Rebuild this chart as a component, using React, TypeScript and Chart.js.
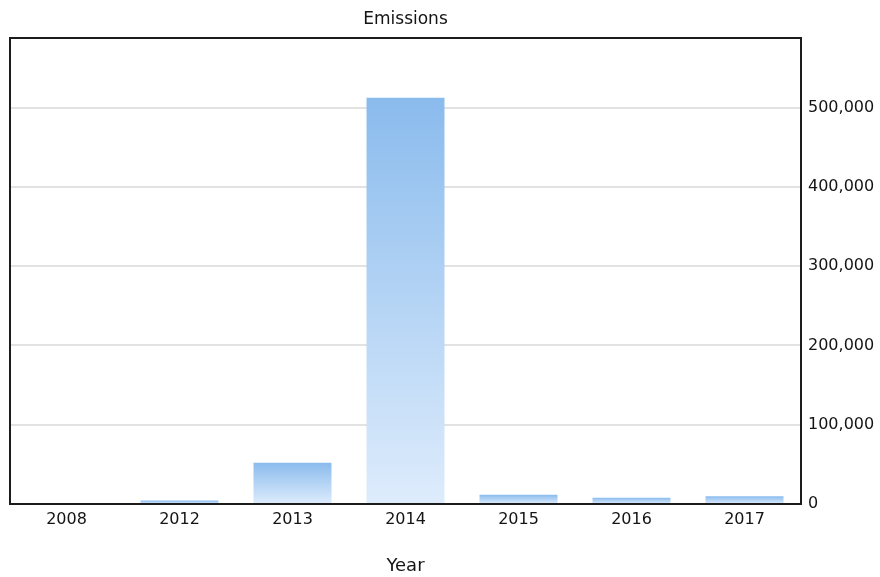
import React, { useEffect, useRef } from "react";
import { Chart, registerables } from "chart.js";

Chart.register(...registerables);

const chartTitle = "Emissions";
const years = ["2008", "2012", "2013", "2014", "2015", "2016", "2017"];
const emissions = [0, 4400, 52000, 512500, 11600, 7800, 9800];
const yTicks = [0, 100000, 200000, 300000, 400000, 500000];
const yMax = 588000;

const FONT = "DejaVu Sans";
const TEXT = "#141414";

// Black frame around the plotting area, plus the title centred over it
const framePlugin = {
  id: "frame",
  afterDatasetsDraw(chart: any) {
    const { ctx, chartArea } = chart;
    ctx.save();
    ctx.strokeStyle = "#1c1c1c";
    ctx.lineWidth = 2;
    ctx.strokeRect(
      chartArea.left,
      chartArea.top,
      chartArea.right - chartArea.left,
      chartArea.bottom - chartArea.top
    );
    ctx.fillStyle = TEXT;
    ctx.font = `17px '${FONT}'`;
    ctx.textAlign = "center";
    ctx.textBaseline = "middle";
    ctx.fillText(chartTitle, (chartArea.left + chartArea.right) / 2, 20);
    ctx.restore();
  },
};

export default function App() {
  const canvasRef = useRef<HTMLCanvasElement | null>(null);

  useEffect(() => {
    document.body.style.margin = "0";
    const canvas = canvasRef.current;
    if (!canvas) return;

    const chart = new Chart(canvas, {
      type: "bar",
      data: {
        labels: years,
        datasets: [
          {
            label: chartTitle,
            data: emissions,
            backgroundColor: (c: any) => {
              const ch = c.chart;
              if (!ch.chartArea || c.raw == null) return "#8dbdee";
              const y = ch.scales.y;
              const top = y.getPixelForValue(c.raw);
              const bottom = y.getPixelForValue(0);
              if (bottom - top < 1) return "#8dbdee";
              const g = ch.ctx.createLinearGradient(0, top, 0, bottom);
              g.addColorStop(0, "#8abbed");
              g.addColorStop(1, "#deecfc");
              return g;
            },
            borderWidth: 0,
            barPercentage: 0.69,
            categoryPercentage: 1,
          },
        ],
      },
      options: {
        responsive: false,
        animation: false,
        layout: { padding: { left: 10, right: 0, top: 38, bottom: 0 } },
        plugins: {
          legend: { display: false },
          tooltip: { enabled: false },
          title: { display: false },
        },
        scales: {
          x: {
            grid: { display: false, drawTicks: false },
            border: { display: false },
            ticks: {
              color: TEXT,
              font: { family: FONT, size: 16 },
              padding: 6,
              maxRotation: 0,
            },
            title: {
              display: true,
              text: "Year",
              color: TEXT,
              font: { family: FONT, size: 18 },
              padding: { top: 17, bottom: 0 },
            },
            afterFit: (s: any) => {
              s.height = 73;
            },
          },
          y: {
            position: "right",
            min: 0,
            max: yMax,
            grid: { color: "#e2e2e2", lineWidth: 2, drawTicks: false },
            border: { display: false },
            ticks: {
              color: TEXT,
              font: { family: FONT, size: 16 },
              padding: 7,
              autoSkip: false,
              callback: (v: any) => Number(v).toLocaleString("en-US"),
            },
            afterBuildTicks: (s: any) => {
              s.ticks = yTicks.map((value) => ({ value }));
            },
            afterFit: (s: any) => {
              s.width = 79;
            },
          },
        },
      },
      plugins: [framePlugin],
    } as any);

    return () => chart.destroy();
  }, []);

  return (
    <div style={{ position: "absolute", left: 0, top: 0, width: 880, height: 577, background: "#fff" }}>
      <canvas ref={canvasRef} width={880} height={577} />
    </div>
  );
}
